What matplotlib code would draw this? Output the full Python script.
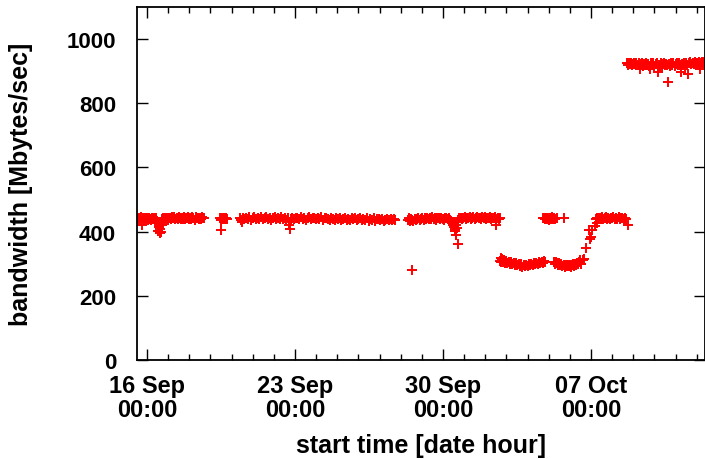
import matplotlib
matplotlib.use('Agg')
import matplotlib.pyplot as plt
import matplotlib.dates as mdates
import numpy as np
from datetime import datetime, timedelta

# start times in days since 16 Sep 00:00, bandwidth in Mbytes/sec
seg_a_days = [-0.42, -0.37, -0.32, -0.28, -0.24, -0.2, -0.15, -0.1, -0.05, 0.0, 0.05, 0.1,
              0.15, 0.2, 0.25, 0.3, 0.35, 0.4, 0.45, 0.47, 0.5, 0.52, 0.55, 0.56, 0.6, 0.62,
              0.64, 0.66, 0.7, 0.72, 0.76, 0.8, 0.85, 0.9, 0.95, 1.0, 1.05, 1.1, 1.15, 1.2,
              1.25, 1.3, 1.35, 1.4, 1.45, 1.5, 1.55, 1.6, 1.65, 1.7, 1.75, 1.8, 1.85, 1.9,
              1.95, 2.0, 2.05, 2.1, 2.15, 2.2, 2.25, 2.3, 2.35, 2.4, 2.45, 2.5, 2.55, 2.6,
              2.65, 2.7,
              3.45, 3.5, 3.5, 3.55, 3.6, 3.65, 3.7, 3.75, 3.8]
seg_a_vals = [440, 443, 437, 445, 420, 441, 436, 444, 439, 442, 437, 443,
              440, 435, 441, 438, 444, 436, 441, 428, 433, 402, 418, 416, 398, 408,
              396, 400, 420, 438, 441, 436, 442, 439, 444, 437, 441, 443, 438, 445,
              441, 446, 439, 443, 440, 446, 442, 438, 444, 440, 445, 439, 443, 441,
              446, 440, 444, 439, 446, 442, 437, 445, 441, 444, 438, 443, 440, 446,
              441, 444,
              441, 404, 437, 444, 440, 443, 438, 442, 439]

seg_b_days = [4.4, 4.45, 4.5, 4.55, 4.6, 4.68, 4.76, 4.84, 4.92, 5.0, 5.08, 5.16, 5.24,
              5.32, 5.4, 5.48, 5.56, 5.64, 5.72, 5.8, 5.88, 5.96, 6.04, 6.12, 6.2, 6.28,
              6.36, 6.44, 6.52, 6.6, 6.68, 6.72, 6.76, 6.8, 6.88, 6.96, 7.04, 7.12, 7.2,
              7.28, 7.36, 7.44, 7.52, 7.6, 7.68, 7.76, 7.84, 7.92, 8.0, 8.08, 8.16, 8.24,
              8.32, 8.4, 8.48, 8.56, 8.64, 8.72, 8.8, 8.88, 8.96, 9.04, 9.12, 9.2, 9.28,
              9.36, 9.44, 9.52, 9.6, 9.68, 9.76, 9.84, 9.92, 10.0, 10.08, 10.16, 10.24,
              10.32, 10.4, 10.48, 10.56, 10.64, 10.72, 10.8, 10.88, 10.96, 11.04, 11.12,
              11.2, 11.28, 11.36, 11.44, 11.52, 11.6, 11.68, 11.73]
seg_b_vals = [441, 436, 430, 443, 438, 444, 440, 445, 437, 441, 446, 439, 443,
              440, 445, 438, 442, 446, 440, 444, 437, 441, 445, 439, 443, 440,
              446, 438, 442, 437, 441, 420, 407, 440, 444, 439, 443, 441, 438,
              445, 440, 443, 437, 442, 446, 439, 441, 444, 438, 442, 440, 445,
              437, 441, 443, 439, 436, 442, 440, 437, 443, 439, 441, 436, 440,
              443, 437, 440, 435, 441, 438, 442, 436, 439, 441, 435, 440,
              437, 442, 434, 439, 436, 441, 433, 438, 440, 435, 439,
              434, 437, 440, 435, 438, 436, 439, 436]

seg_c_days = [12.35, 12.4, 12.45, 12.5, 12.53, 12.55, 12.6, 12.66, 12.72, 12.78, 12.84,
              12.9, 12.96, 13.02, 13.08, 13.14, 13.2, 13.26, 13.32, 13.38, 13.44, 13.5,
              13.56, 13.62, 13.68, 13.74, 13.8, 13.86, 13.92, 13.98, 14.04, 14.1, 14.16,
              14.22, 14.28, 14.34, 14.4, 14.42, 14.45, 14.48, 14.5, 14.52, 14.55, 14.58,
              14.6, 14.63, 14.66, 14.7,
              14.72, 14.78, 14.84, 14.9, 14.96, 15.02, 15.08, 15.14, 15.2, 15.26, 15.32,
              15.38, 15.44, 15.5, 15.56, 15.62, 15.68, 15.74, 15.8, 15.86, 15.92, 15.98,
              16.04, 16.1, 16.16, 16.22, 16.28, 16.34, 16.4, 16.46, 16.5, 16.52, 16.58,
              16.64, 16.68]
seg_c_vals = [437, 441, 434, 439, 280, 436, 432, 440, 435, 438, 442,
              436, 440, 443, 437, 441, 439, 444, 438, 442, 440, 445,
              439, 443, 437, 441, 444, 438, 442, 440, 437, 441, 444,
              438, 441, 436, 432, 430, 425, 420, 416, 428, 407, 401,
              420, 388, 410, 363,
              436, 441, 444, 439, 443, 446, 440, 444, 441, 446, 439,
              443, 445, 440, 444, 447, 441, 443, 439, 445, 442, 446,
              440, 444, 441, 446, 439, 443, 441, 445, 422, 440, 444,
              439, 442]

seg_e_days = [16.7, 16.73, 16.76, 16.8, 16.84, 16.88, 16.93, 16.98, 17.04, 17.1, 17.16,
              17.22, 17.28, 17.34, 17.4, 17.46, 17.52, 17.58, 17.64, 17.7, 17.76, 17.82,
              17.88, 17.94, 18.0, 18.06, 18.12, 18.18, 18.24, 18.3, 18.36, 18.42, 18.48,
              18.54, 18.6, 18.66, 18.72, 18.78, 18.83]
seg_e_vals = [310, 318, 306, 314, 305, 311, 303, 308, 301, 306, 300,
              304, 298, 303, 297, 301, 295, 300, 293, 298, 291, 296,
              292, 297, 294, 299, 295, 300, 296, 302, 298, 303, 300,
              305, 301, 306, 303, 308, 305]

seg_f_days = [18.72, 18.77, 18.82, 18.87, 18.92, 18.97, 19.02, 19.07, 19.12, 19.17, 19.22,
              19.27, 19.32, 19.37, 19.7]
seg_f_vals = [441, 443, 438, 444, 440, 442, 437, 443, 440, 445, 439, 442, 438, 441, 441]

seg_g_days = [19.25, 19.3, 19.35, 19.4, 19.45, 19.5, 19.55, 19.6, 19.65, 19.7, 19.75,
              19.8, 19.85, 19.9, 19.95, 20.0, 20.05, 20.1, 20.15, 20.2, 20.25, 20.3,
              20.35, 20.4, 20.45, 20.5, 20.55, 20.6,
              20.68, 20.75, 20.9, 20.95, 20.98, 21.05, 21.2, 21.3]
seg_g_vals = [305, 300, 306, 303, 297, 301, 295, 299, 293, 297, 291,
              295, 292, 296, 293, 297, 291, 295, 299, 294, 298, 296,
              301, 299, 304, 313, 300, 312,
              314, 348, 405, 378, 384, 406, 417, 428]

seg_h_days = [21.22, 21.28, 21.34, 21.4, 21.46, 21.52, 21.58, 21.64, 21.7, 21.76, 21.82,
              21.88, 21.94, 22.0, 22.06, 22.12, 22.18, 22.24, 22.3, 22.36, 22.42, 22.48,
              22.54, 22.6, 22.66, 22.75]
seg_h_vals = [440, 443, 438, 444, 441, 446, 439, 442, 445, 440, 443,
              438, 444, 441, 446, 439, 443, 440, 445, 438, 442, 444,
              439, 443, 440, 420]

seg_i_days = [22.7, 22.75, 22.8, 22.85, 22.9, 22.95, 23.0, 23.05, 23.1, 23.15, 23.2,
              23.25, 23.3, 23.35, 23.4, 23.45, 23.5, 23.55, 23.6, 23.65, 23.7, 23.75,
              23.8, 23.85, 23.9, 23.95, 24.0, 24.05, 24.1, 24.15, 24.2, 24.25, 24.3,
              24.35, 24.4, 24.45, 24.5, 24.55, 24.6, 24.66, 24.7, 24.75, 24.8, 24.85,
              24.9, 24.95, 25.0, 25.05, 25.1, 25.15, 25.2, 25.24, 25.3, 25.35, 25.4,
              25.45, 25.5, 25.55, 25.6, 25.65, 25.7, 25.75, 25.8, 25.85, 25.9, 25.95,
              26.0, 26.05, 26.1, 26.13, 26.18, 26.23, 26.28, 26.33, 26.38]
seg_i_vals = [925, 920, 927, 922, 926, 918, 923, 927, 921, 925, 919,
              924, 906, 922, 926, 917, 923, 920, 927, 918, 922, 915,
              908, 924, 919, 925, 916, 921, 926, 899, 920, 917, 924,
              914, 921, 926, 918, 923, 919, 865, 922, 916, 924, 919,
              926, 917, 922, 927, 920, 925, 918, 896, 923, 919, 926,
              917, 924, 920, 890, 925, 928, 921, 927, 923, 929, 924,
              927, 922, 928, 908, 926, 929, 924, 928, 926]

days = np.array(seg_a_days + seg_b_days + seg_c_days + seg_e_days + seg_f_days
                + seg_g_days + seg_h_days + seg_i_days)
vals = np.array(seg_a_vals + seg_b_vals + seg_c_vals + seg_e_vals + seg_f_vals
                + seg_g_vals + seg_h_vals + seg_i_vals)

t0 = datetime(2004, 9, 16)
times = [t0 + timedelta(days=float(d)) for d in days]

plt.rcParams['font.family'] = ['Liberation Sans', 'DejaVu Sans']
plt.rcParams['font.weight'] = 'bold'

fig = plt.figure(figsize=(7.05, 4.6), dpi=100)
ax = fig.add_axes([0.1943, 0.2152, 0.806, 0.7674])

ax.plot(times, vals, linestyle='none', marker='+', color='#ff0000',
        markersize=7, markeredgewidth=1.4)

ax.set_xlim(t0 - timedelta(days=0.47), t0 + timedelta(days=26.4))
ax.set_ylim(0, 1100)
ax.set_yticks([0, 200, 400, 600, 800, 1000])

ax.xaxis.set_major_locator(mdates.DayLocator(bymonthday=[16, 23, 30, 7]))
ax.xaxis.set_minor_locator(mdates.DayLocator())
ax.xaxis.set_major_formatter(mdates.DateFormatter('%d %b\n%H:%M'))

ax.tick_params(axis='both', which='both', direction='in', top=True, right=True, width=1)
ax.tick_params(axis='x', which='major', length=8, pad=10, labelsize=17)
ax.tick_params(axis='x', which='minor', length=4)
ax.tick_params(axis='y', which='major', length=8, pad=15, labelsize=16)
for lbl in ax.get_xticklabels() + ax.get_yticklabels():
    lbl.set_fontweight('bold')
    lbl.set_linespacing(1.05)
for s in ax.spines.values():
    s.set_linewidth(1.3)

ax.set_xlabel('start time [date hour]', fontsize=18, fontweight='bold', labelpad=9)
ax.set_ylabel('bandwidth [Mbytes/sec]', fontsize=18, fontweight='bold', labelpad=24)

fig.savefig('out.png', dpi=100)
